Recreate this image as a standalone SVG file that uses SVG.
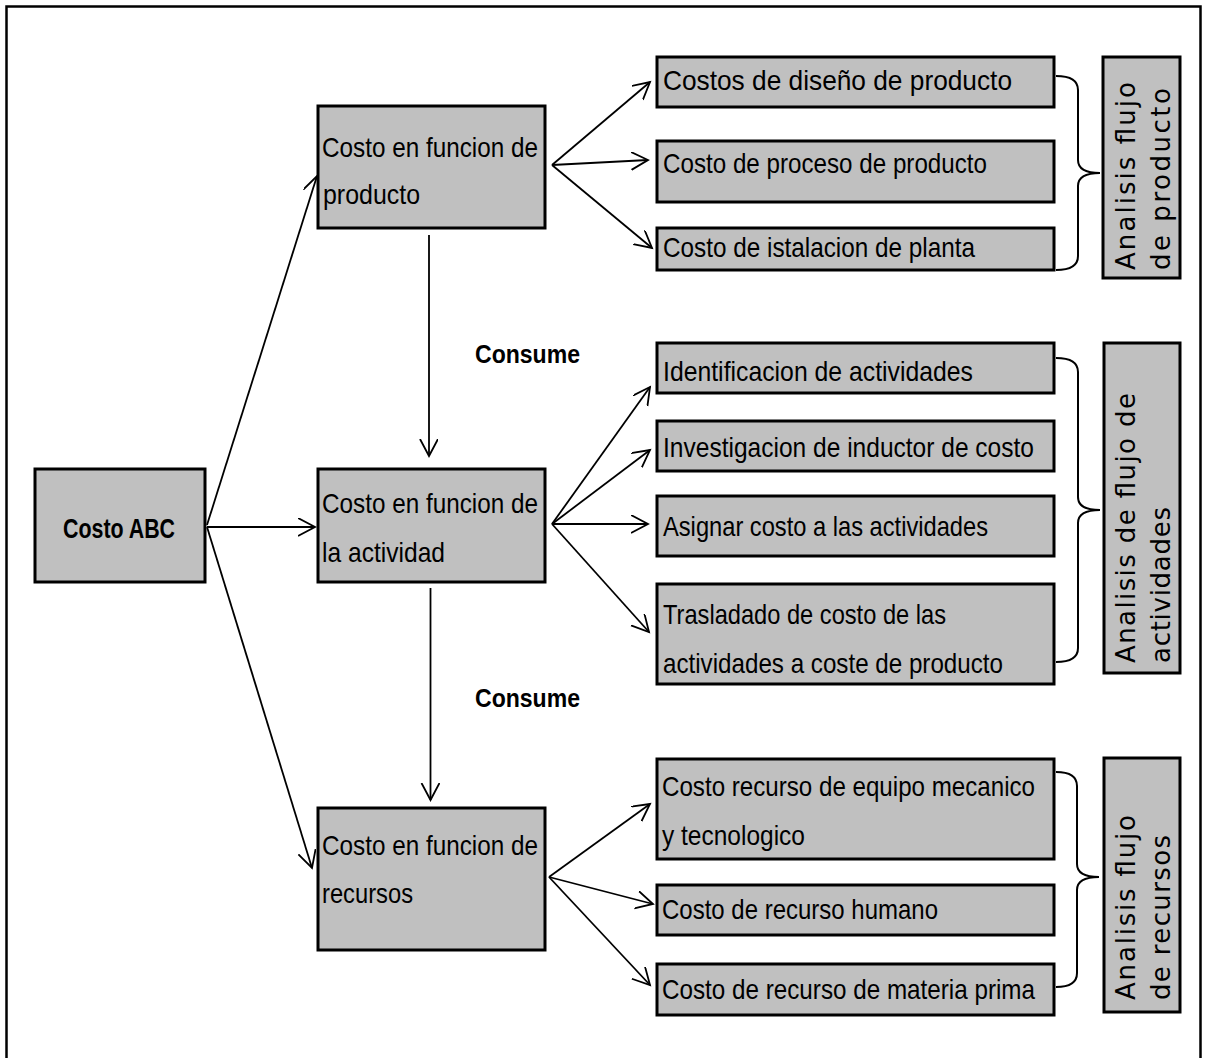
<svg xmlns="http://www.w3.org/2000/svg" width="1206" height="1058" viewBox="0 0 1206 1058">
<style>
.box{fill:#c0c0c0;stroke:#000;stroke-width:3}
.t{font-family:"Liberation Sans",Arial,sans-serif;font-size:28px;fill:#000}
.b{font-family:"Liberation Sans",Arial,sans-serif;font-weight:bold;fill:#000}
.v{font-family:"DejaVu Sans",Verdana,sans-serif;font-size:26px;fill:#000}
.c{fill:none;stroke:#000;stroke-width:1.8}
.br{fill:none;stroke:#000;stroke-width:2}
</style>
<defs>
<marker id="ah" markerWidth="20" markerHeight="20" refX="17" refY="9" orient="auto" markerUnits="userSpaceOnUse">
<path d="M0,0 L17,9 L0,18" fill="none" stroke="#000" stroke-width="1.8"/>
</marker>
</defs>
<rect x="6.5" y="6.5" width="1194" height="1100" fill="#fff" stroke="#000" stroke-width="2.5"/>

<g id="connectors">
<line class="c" x1="207" y1="525" x2="317" y2="176" marker-end="url(#ah)"/>
<line class="c" x1="207" y1="527" x2="315" y2="527" marker-end="url(#ah)"/>
<line class="c" x1="207" y1="527" x2="312" y2="868" marker-end="url(#ah)"/>
<line class="c" x1="429" y1="235" x2="429" y2="456" marker-end="url(#ah)"/>
<line class="c" x1="430.5" y1="588" x2="430.5" y2="800" marker-end="url(#ah)"/>
<line class="c" x1="552" y1="165" x2="650" y2="82" marker-end="url(#ah)"/>
<line class="c" x1="552" y1="165" x2="648" y2="160" marker-end="url(#ah)"/>
<line class="c" x1="552" y1="165" x2="652" y2="248" marker-end="url(#ah)"/>
<line class="c" x1="552" y1="524" x2="650" y2="387" marker-end="url(#ah)"/>
<line class="c" x1="552" y1="524" x2="650" y2="450" marker-end="url(#ah)"/>
<line class="c" x1="552" y1="524" x2="648" y2="524" marker-end="url(#ah)"/>
<line class="c" x1="552" y1="524" x2="649" y2="632" marker-end="url(#ah)"/>
<line class="c" x1="549" y1="877" x2="650" y2="804" marker-end="url(#ah)"/>
<line class="c" x1="549" y1="877" x2="653" y2="904" marker-end="url(#ah)"/>
<line class="c" x1="549" y1="877" x2="650" y2="985" marker-end="url(#ah)"/>
<path class="br" d="M1056,76 Q1078,76 1078,90 L1078,160 Q1078,173 1100,173 Q1078,173 1078,186 L1078,256 Q1078,270 1056,270"/>
<path class="br" d="M1056,358 Q1078,358 1078,372 L1078,497 Q1078,510 1100,510 Q1078,510 1078,523 L1078,648 Q1078,662 1056,662"/>
<path class="br" d="M1056,772 Q1077,772 1077,786 L1077,864 Q1077,877 1099,877 Q1077,877 1077,890 L1077,973 Q1077,987 1056,987"/>
<text class="b" x="475" y="363" font-size="25" textLength="105" lengthAdjust="spacingAndGlyphs">Consume</text>
<text class="b" x="475" y="707" font-size="25" textLength="105" lengthAdjust="spacingAndGlyphs">Consume</text>
</g>

<g id="costo-abc">
<rect class="box" x="35" y="469" width="170" height="113"/>
<text class="b" x="63" y="538" font-size="28" textLength="112" lengthAdjust="spacingAndGlyphs">Costo ABC</text>
</g>

<g id="funcion-producto">
<rect class="box" x="318" y="106" width="227" height="122"/>
<text class="t" x="322" y="157" textLength="216" lengthAdjust="spacingAndGlyphs">Costo en funcion de</text>
<text class="t" x="323" y="204" textLength="97" lengthAdjust="spacingAndGlyphs">producto</text>
</g>

<g id="funcion-actividad">
<rect class="box" x="318" y="469" width="227" height="113"/>
<text class="t" x="322" y="513" textLength="216" lengthAdjust="spacingAndGlyphs">Costo en funcion de</text>
<text class="t" x="322" y="562" textLength="123" lengthAdjust="spacingAndGlyphs">la actividad</text>
</g>

<g id="funcion-recursos">
<rect class="box" x="318" y="808" width="227" height="142"/>
<text class="t" x="322" y="855" textLength="216" lengthAdjust="spacingAndGlyphs">Costo en funcion de</text>
<text class="t" x="322" y="903" textLength="91" lengthAdjust="spacingAndGlyphs">recursos</text>
</g>

<g id="p1">
<rect class="box" x="657" y="57" width="397" height="50"/>
<text class="t" x="663" y="90" textLength="349" lengthAdjust="spacingAndGlyphs">Costos de diseño de producto</text>
</g>
<g id="p2">
<rect class="box" x="657" y="141" width="397" height="61"/>
<text class="t" x="663" y="173" textLength="324" lengthAdjust="spacingAndGlyphs">Costo de proceso de producto</text>
</g>
<g id="p3">
<rect class="box" x="657" y="228" width="397" height="42"/>
<text class="t" x="663" y="257" textLength="312" lengthAdjust="spacingAndGlyphs">Costo de istalacion de planta</text>
</g>

<g id="a1">
<rect class="box" x="657" y="343" width="397" height="50"/>
<text class="t" x="663" y="381" textLength="310" lengthAdjust="spacingAndGlyphs">Identificacion de actividades</text>
</g>
<g id="a2">
<rect class="box" x="657" y="421" width="397" height="50"/>
<text class="t" x="663" y="457" textLength="371" lengthAdjust="spacingAndGlyphs">Investigacion de inductor de costo</text>
</g>
<g id="a3">
<rect class="box" x="657" y="496" width="397" height="60"/>
<text class="t" x="663" y="536" textLength="325" lengthAdjust="spacingAndGlyphs">Asignar costo a las actividades</text>
</g>
<g id="a4">
<rect class="box" x="657" y="584" width="397" height="100"/>
<text class="t" x="663" y="624" textLength="283" lengthAdjust="spacingAndGlyphs">Trasladado de costo de las</text>
<text class="t" x="663" y="673" textLength="340" lengthAdjust="spacingAndGlyphs">actividades a coste de producto</text>
</g>

<g id="r1">
<rect class="box" x="657" y="759" width="397" height="100"/>
<text class="t" x="662" y="796" textLength="373" lengthAdjust="spacingAndGlyphs">Costo recurso de equipo mecanico</text>
<text class="t" x="662" y="845" textLength="143" lengthAdjust="spacingAndGlyphs">y tecnologico</text>
</g>
<g id="r2">
<rect class="box" x="657" y="885" width="397" height="50"/>
<text class="t" x="662" y="919" textLength="276" lengthAdjust="spacingAndGlyphs">Costo de recurso humano</text>
</g>
<g id="r3">
<rect class="box" x="657" y="964" width="397" height="51"/>
<text class="t" x="662" y="999" textLength="373" lengthAdjust="spacingAndGlyphs">Costo de recurso de materia prima</text>
</g>

<g id="analisis-producto">
<rect class="box" x="1103" y="57" width="77" height="221"/>
<text class="v" transform="translate(1135,270) rotate(-90)" textLength="188" lengthAdjust="spacing">Analisis flujo</text>
<text class="v" transform="translate(1170,270) rotate(-90)" textLength="182" lengthAdjust="spacing">de producto</text>
</g>
<g id="analisis-actividades">
<rect class="box" x="1104" y="343" width="76" height="330"/>
<text class="v" transform="translate(1135,663) rotate(-90)" textLength="270" lengthAdjust="spacing">Analisis de flujo de</text>
<text class="v" transform="translate(1170,663) rotate(-90)" textLength="156" lengthAdjust="spacing">actividades</text>
</g>
<g id="analisis-recursos">
<rect class="box" x="1104" y="758" width="76" height="254"/>
<text class="v" transform="translate(1135,1000) rotate(-90)" textLength="185" lengthAdjust="spacing">Analisis flujo</text>
<text class="v" transform="translate(1170,1000) rotate(-90)" textLength="165" lengthAdjust="spacing">de recursos</text>
</g>
</svg>
